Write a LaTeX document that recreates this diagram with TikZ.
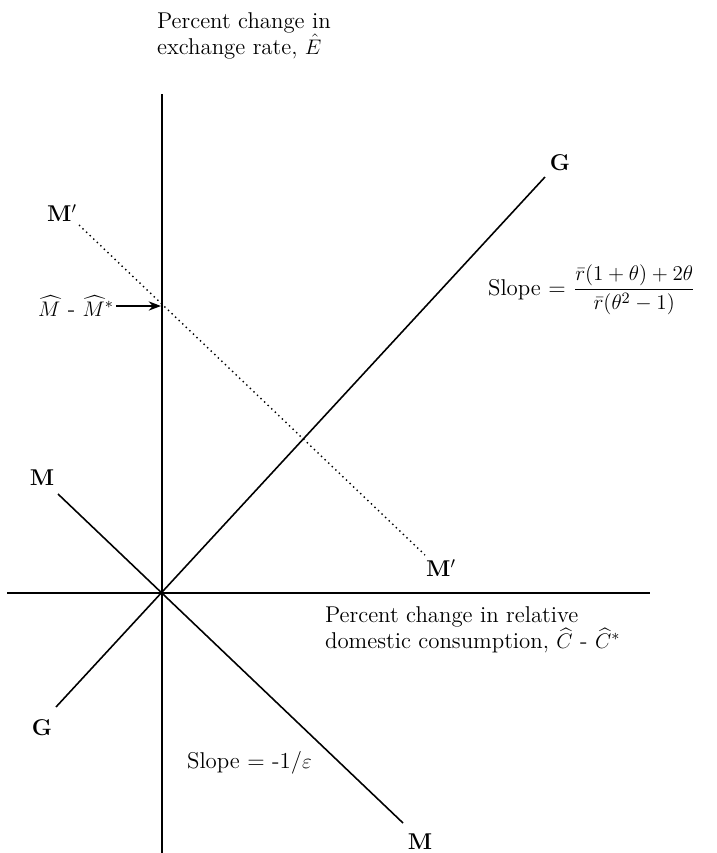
\documentclass[tikz,border=0pt]{standalone}
\usepackage{amsmath}
\usetikzlibrary{arrows.meta, positioning}

\begin{document}
\begin{tikzpicture}[x=0.02cm, y=-0.02cm, every node/.style={font=\fontsize{13}{14.5}\selectfont, inner sep=1pt}]
    \useasboundingbox (0,0) rectangle (717,853);
    \tikzset{curve/.style={line width=0.9pt}, tag/.style={font=\fontsize{13}{14.5}\selectfont\bfseries}}

    % Axes
    \coordinate (origin) at (162,593);
    \coordinate (ytop) at (162,94);
    \coordinate (ybot) at (162,853);
    \coordinate (xleft) at (7,593);
    \coordinate (xright) at (650,593);
    \draw[curve] (ybot) -- (ytop);
    \draw[curve] (xleft) -- (xright);

    % Axis labels
    \node[anchor=west, align=left] (ylabel) at (155,36) {Percent change in\\exchange rate, $\hat{E}$};
    \node[anchor=west, align=left] (xlabel) at (323,630) {Percent change in relative\\domestic consumption, $\widehat{C}$ - $\widehat{C}^{*}$};

    % GG schedule
    \node[tag] (Gtop) at (560,163) {G};
    \node[tag] (Gbot) at (42,728) {G};
    \coordinate (g1) at (56,707);
    \coordinate (g2) at (545,177);
    \draw[curve] (g1) -- (g2);

    % MM schedule
    \node[tag] (Mtop) at (42,478) {M};
    \node[tag] (Mbot) at (420,842) {M};
    \coordinate (m1) at (58,494);
    \coordinate (m2) at (403,823);
    \draw[curve] (m1) -- (m2);

    % M'M' schedule
    \node[tag] (Mptop) at (62,213) {M$'$};
    \node[tag] (Mpbot) at (441,568) {M$'$};
    \coordinate (mp1) at (79,225);
    \coordinate (mp2) at (425,555);
    \draw[dotted, line width=0.8pt] (mp1) -- (mp2);

    % Intercept
    \node[anchor=east] (mdiff) at (116,306) {$\widehat{M}$ - $\widehat{M}^{*}$};
    \coordinate (icept) at (161,306);
    \draw[-{Stealth[length=7pt]}, line width=0.8pt] (mdiff) -- (icept);

    % Slopes
    \node[anchor=west] (gslope) at (486,290) {Slope = $\dfrac{\bar{r}(1 + \theta) + 2\theta}{\bar{r}(\theta^{2} - 1)}$};
    \node[anchor=west] (mslope) at (185,763) {Slope = -1/$\varepsilon$};
\end{tikzpicture}
\end{document}
